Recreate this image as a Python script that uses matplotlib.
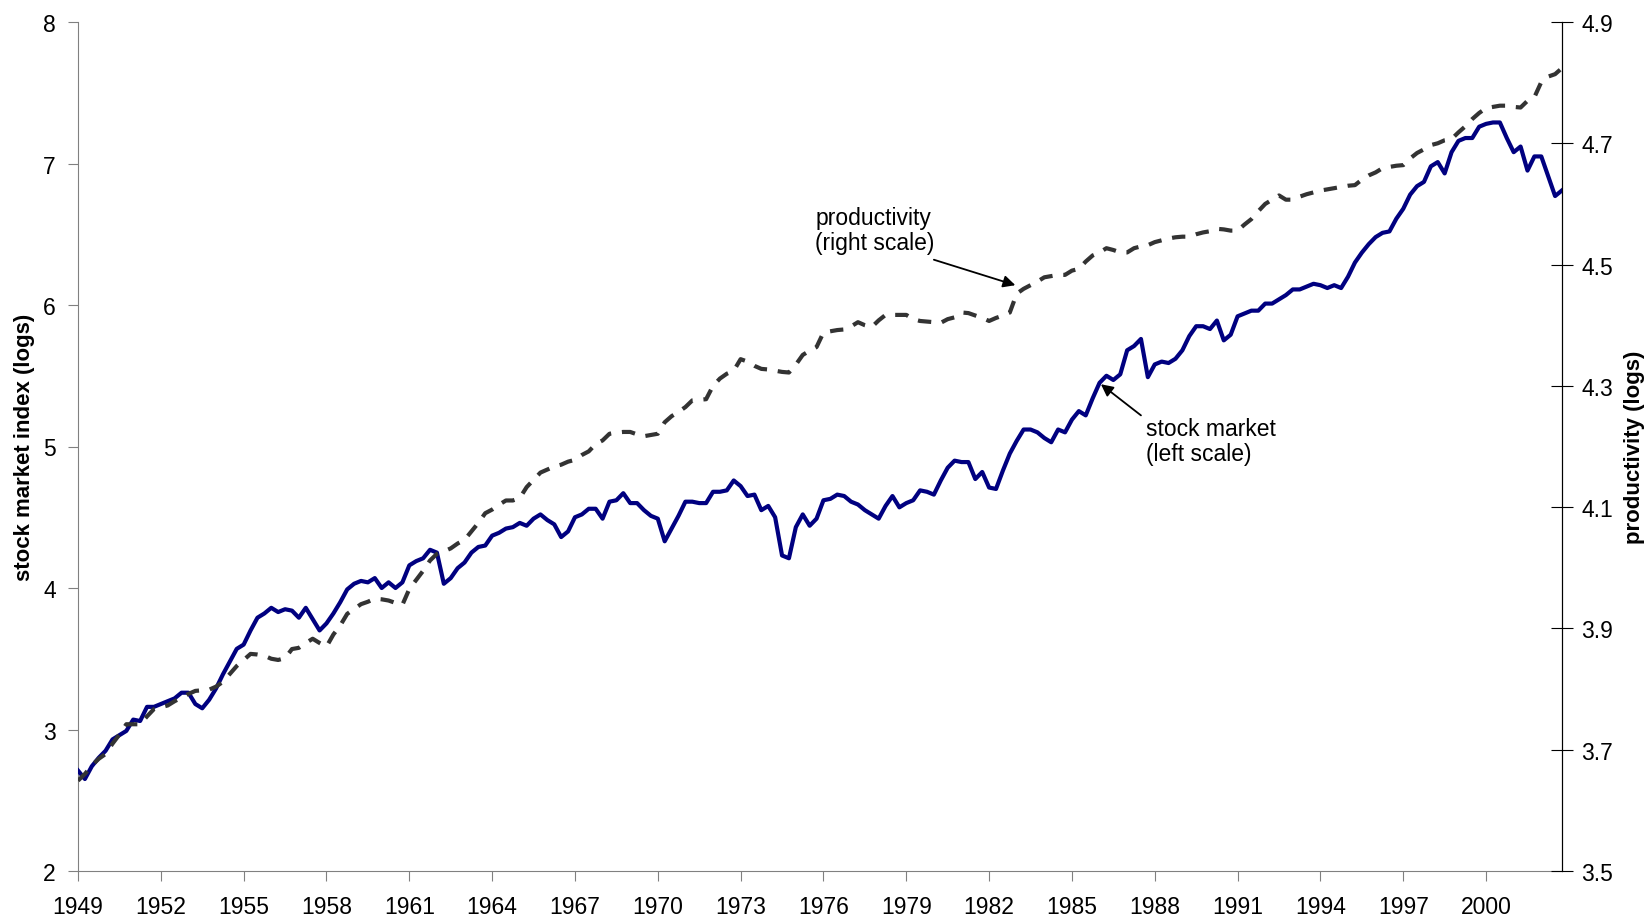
import matplotlib
matplotlib.use("Agg")
import matplotlib.pyplot as plt
import numpy as np

plt.rcParams['font.family'] = ['Liberation Sans', 'DejaVu Sans']

# quarterly data, 1949Q1 .. 2002Q4
start_year = 1949
stock = [
    2.71, 2.65, 2.74, 2.80,  # 1949
    2.85, 2.93, 2.96, 2.99,  # 1950
    3.07, 3.06, 3.16, 3.16,  # 1951
    3.18, 3.20, 3.22, 3.26,  # 1952
    3.26, 3.18, 3.15, 3.21,  # 1953
    3.29, 3.39, 3.48, 3.57,  # 1954
    3.60, 3.70, 3.79, 3.82,  # 1955
    3.86, 3.83, 3.85, 3.84,  # 1956
    3.79, 3.86, 3.78, 3.70,  # 1957
    3.75, 3.82, 3.90, 3.99,  # 1958
    4.03, 4.05, 4.04, 4.07,  # 1959
    4.00, 4.04, 4.00, 4.04,  # 1960
    4.16, 4.19, 4.21, 4.27,  # 1961
    4.25, 4.03, 4.07, 4.14,  # 1962
    4.18, 4.25, 4.29, 4.30,  # 1963
    4.37, 4.39, 4.42, 4.43,  # 1964
    4.46, 4.44, 4.49, 4.52,  # 1965
    4.48, 4.45, 4.36, 4.40,  # 1966
    4.50, 4.52, 4.56, 4.56,  # 1967
    4.49, 4.61, 4.62, 4.67,  # 1968
    4.60, 4.60, 4.55, 4.51,  # 1969
    4.49, 4.33, 4.42, 4.51,  # 1970
    4.61, 4.61, 4.60, 4.60,  # 1971
    4.68, 4.68, 4.69, 4.76,  # 1972
    4.72, 4.65, 4.66, 4.55,  # 1973
    4.58, 4.50, 4.23, 4.21,  # 1974
    4.43, 4.52, 4.44, 4.49,  # 1975
    4.62, 4.63, 4.66, 4.65,  # 1976
    4.61, 4.59, 4.55, 4.52,  # 1977
    4.49, 4.58, 4.65, 4.57,  # 1978
    4.60, 4.62, 4.69, 4.68,  # 1979
    4.66, 4.76, 4.85, 4.90,  # 1980
    4.89, 4.89, 4.77, 4.82,  # 1981
    4.71, 4.70, 4.83, 4.95,  # 1982
    5.04, 5.12, 5.12, 5.10,  # 1983
    5.06, 5.03, 5.12, 5.10,  # 1984
    5.19, 5.25, 5.22, 5.34,  # 1985
    5.45, 5.50, 5.47, 5.51,  # 1986
    5.68, 5.71, 5.76, 5.49,  # 1987
    5.58, 5.60, 5.59, 5.62,  # 1988
    5.68, 5.78, 5.85, 5.85,  # 1989
    5.83, 5.89, 5.75, 5.79,  # 1990
    5.92, 5.94, 5.96, 5.96,  # 1991
    6.01, 6.01, 6.04, 6.07,  # 1992
    6.11, 6.11, 6.13, 6.15,  # 1993
    6.14, 6.12, 6.14, 6.12,  # 1994
    6.20, 6.30, 6.37, 6.43,  # 1995
    6.48, 6.51, 6.52, 6.61,  # 1996
    6.68, 6.78, 6.84, 6.87,  # 1997
    6.98, 7.01, 6.93, 7.08,  # 1998
    7.16, 7.18, 7.18, 7.26,  # 1999
    7.28, 7.29, 7.29, 7.18,  # 2000
    7.08, 7.12, 6.95, 7.05,  # 2001
    7.05, 6.91, 6.77, 6.81,  # 2002
]

productivity = [
    3.649, 3.660, 3.674, 3.685,  # 1949
    3.693, 3.710, 3.725, 3.742,  # 1950
    3.742, 3.742, 3.755, 3.767,  # 1951
    3.770, 3.773, 3.780, 3.786,  # 1952
    3.792, 3.797, 3.798, 3.799,  # 1953
    3.804, 3.812, 3.825, 3.838,  # 1954
    3.848, 3.858, 3.857, 3.855,  # 1955
    3.850, 3.848, 3.851, 3.866,  # 1956
    3.868, 3.876, 3.883, 3.876,  # 1957
    3.870, 3.890, 3.905, 3.924,  # 1958
    3.932, 3.940, 3.944, 3.949,  # 1959
    3.948, 3.946, 3.942, 3.939,  # 1960
    3.965, 3.980, 3.995, 4.012,  # 1961
    4.023, 4.027, 4.032, 4.040,  # 1962
    4.046, 4.060, 4.074, 4.090,  # 1963
    4.096, 4.104, 4.111, 4.111,  # 1964
    4.115, 4.133, 4.145, 4.157,  # 1965
    4.162, 4.167, 4.170, 4.175,  # 1966
    4.178, 4.186, 4.192, 4.204,  # 1967
    4.210, 4.221, 4.223, 4.224,  # 1968
    4.224, 4.220, 4.217, 4.219,  # 1969
    4.221, 4.240, 4.250, 4.257,  # 1970
    4.265, 4.276, 4.277, 4.278,  # 1971
    4.300, 4.312, 4.320, 4.325,  # 1972
    4.344, 4.340, 4.333, 4.328,  # 1973
    4.327, 4.325, 4.323, 4.322,  # 1974
    4.335, 4.351, 4.358, 4.364,  # 1975
    4.388, 4.390, 4.392, 4.393,  # 1976
    4.398, 4.405, 4.400, 4.397,  # 1977
    4.408, 4.417, 4.417, 4.417,  # 1978
    4.417, 4.410, 4.407, 4.406,  # 1979
    4.405, 4.404, 4.410, 4.413,  # 1980
    4.421, 4.420, 4.416, 4.412,  # 1981
    4.407, 4.412, 4.416, 4.421,  # 1982
    4.452, 4.460, 4.466, 4.472,  # 1983
    4.479, 4.481, 4.483, 4.483,  # 1984
    4.490, 4.493, 4.505, 4.515,  # 1985
    4.520, 4.527, 4.524, 4.520,  # 1986
    4.520, 4.527, 4.530, 4.532,  # 1987
    4.537, 4.540, 4.543, 4.545,  # 1988
    4.546, 4.546, 4.550, 4.553,  # 1989
    4.555, 4.559, 4.558, 4.556,  # 1990
    4.556, 4.566, 4.575, 4.588,  # 1991
    4.600, 4.607, 4.614, 4.607,  # 1992
    4.607, 4.612, 4.616, 4.619,  # 1993
    4.622, 4.624, 4.626, 4.628,  # 1994
    4.630, 4.631, 4.640, 4.647,  # 1995
    4.652, 4.659, 4.661, 4.663,  # 1996
    4.664, 4.675, 4.684, 4.690,  # 1997
    4.697, 4.700, 4.705, 4.707,  # 1998
    4.718, 4.728, 4.740, 4.750,  # 1999
    4.758, 4.760, 4.762, 4.762,  # 2000
    4.760, 4.759, 4.770, 4.776,  # 2001
    4.801, 4.810, 4.814, 4.824,  # 2002
]

year_ticks = list(range(1949, 2001, 3))
left_ticks = [2, 3, 4, 5, 6, 7, 8]
right_ticks = [3.5, 3.7, 3.9, 4.1, 4.3, 4.5, 4.7, 4.9]

t = start_year + np.arange(len(stock)) / 4.0

fig = plt.figure(figsize=(16.51, 9.20), dpi=100)
ax = fig.add_axes([78 / 1651, 48 / 920, 1484 / 1651, 849 / 920])
ax2 = ax.twinx()

ax.plot(t, stock, color="#000080", lw=3.0, solid_joinstyle="round", zorder=3)
ax2.plot(t, productivity, color="#333333", lw=3.0, dashes=(3.2, 2.6),
         dash_capstyle="butt", zorder=2)

ax.set_xlim(t[0], t[-1])
ax.set_ylim(2, 8)
ax2.set_ylim(3.5, 4.9)
ax.set_xticks(year_ticks)
ax.set_yticks(left_ticks)
ax2.set_yticks(right_ticks)
ax2.set_yticklabels([f"{v:.1f}" for v in right_ticks])

for a in (ax, ax2):
    a.spines["top"].set_visible(False)
ax.spines["left"].set_color("#808080")
ax.spines["bottom"].set_color("#808080")
ax2.spines["left"].set_visible(False)
ax2.spines["bottom"].set_visible(False)
ax2.spines["right"].set_color("black")

fs = 16.5
ax.tick_params(axis="x", direction="out", length=7, color="#808080",
               labelsize=fs, pad=10)
ax.tick_params(axis="y", direction="out", length=7, color="#808080",
               labelsize=fs, pad=9)
ax2.tick_params(axis="y", direction="inout", length=16, color="black",
                labelsize=fs, pad=6)

ax.set_ylabel("stock market index (logs)", fontsize=16, fontweight="bold", labelpad=6)
ax2.set_ylabel("productivity (logs)", fontsize=16, fontweight="bold", labelpad=8)

# annotations
ax2.text(1975.7, 4.596, "productivity\n(right scale)", fontsize=fs,
         ha="left", va="top", linespacing=1.1)
ax2.annotate("", xy=(1982.95, 4.466), xytext=(1980.0, 4.508),
             arrowprops=dict(arrowstyle="-|>", color="black", lw=1.3,
                             mutation_scale=18, shrinkA=0, shrinkB=0))
ax.text(1987.7, 5.21, "stock market\n(left scale)", fontsize=fs,
        ha="left", va="top", linespacing=1.1)
ax.annotate("", xy=(1986.05, 5.44), xytext=(1987.5, 5.22),
            arrowprops=dict(arrowstyle="-|>", color="black", lw=1.3,
                            mutation_scale=18, shrinkA=0, shrinkB=0))

fig.savefig("out.png", dpi=100)
